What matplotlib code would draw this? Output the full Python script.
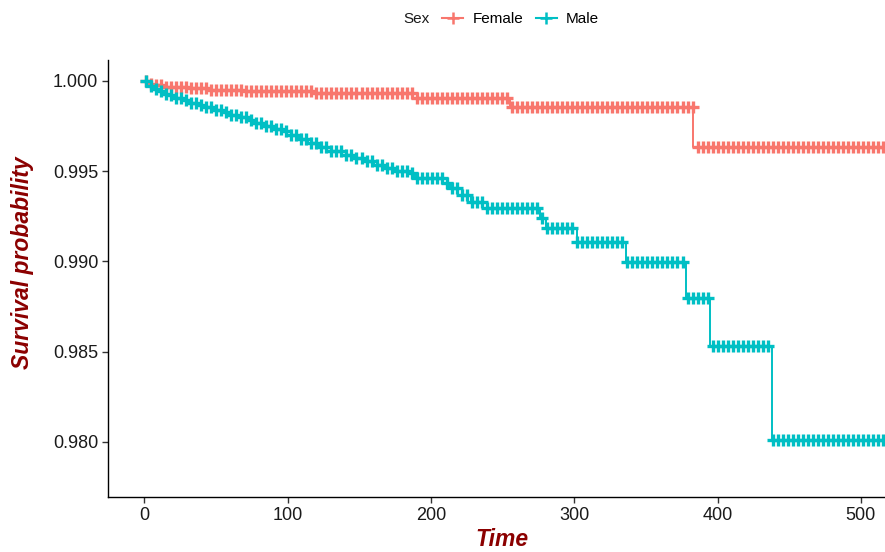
import numpy as np
import matplotlib
matplotlib.use('Agg')
import matplotlib.pyplot as plt
from matplotlib.lines import Line2D

plt.rcParams['font.family'] = ['Liberation Sans', 'DejaVu Sans']

# Kaplan-Meier steps (time, survival after the step)
female_t = [0, 3, 8, 15, 30, 45, 70, 120, 190, 255, 383]
female_s = [1.0, 0.99985, 0.99975, 0.99965, 0.9996, 0.9995, 0.99945, 0.99935,
            0.99906, 0.99857, 0.99634]

male_t = [0, 2, 4, 7, 10, 14, 18, 22, 27, 32, 37, 42, 48, 54, 60, 66, 72, 78,
          84, 90, 96, 102, 108, 114, 122, 130, 138, 146, 152, 160, 168, 176,
          184, 189, 211, 213, 219, 228, 236, 276, 280, 302, 336, 378, 395, 438]
male_s = [1.0, 0.99985, 0.9997, 0.99958, 0.99945, 0.9993, 0.9992, 0.99908,
          0.99895, 0.9988, 0.99868, 0.99855, 0.9984, 0.99828, 0.99812, 0.998,
          0.99782, 0.99765, 0.9975, 0.99735, 0.9972, 0.997, 0.9968, 0.99655,
          0.99635, 0.9961, 0.9959, 0.99575, 0.99555, 0.99535, 0.9952, 0.995,
          0.9949, 0.99463, 0.99435, 0.99407, 0.99368, 0.9933, 0.99296, 0.99241,
          0.99186, 0.99108, 0.98997, 0.98798, 0.98532, 0.98011]

t_end = 517
# censoring is very dense in the plot (a mark roughly every 3.5 days)
censor_times = np.arange(1, t_end, 3.5)

col_f = '#F8766D'
col_m = '#00BFC4'


def surv_at(times, surv, t):
    idx = np.searchsorted(times, t, side='right') - 1
    return np.array(surv)[idx]


fig = plt.figure(figsize=(8.85, 5.52), dpi=100)
ax = fig.add_axes([108/885, 1 - 497/552, 777/885, 437/552])

for tt, ss, col in [(female_t, female_s, col_f), (male_t, male_s, col_m)]:
    ax.step(tt + [t_end], ss + [ss[-1]], where='post', color=col, lw=1.4, zorder=2)
    ax.plot(censor_times, surv_at(tt, ss, censor_times), ls='none', marker='+',
            ms=8.5, mew=2.4, color=col, zorder=3)

ax.set_xlim(-25.4, 516.8)
ax.set_ylim(0.97695, 1.00116)
ax.set_xticks([0, 100, 200, 300, 400, 500])
ax.set_yticks([0.980, 0.985, 0.990, 0.995, 1.000])
ax.set_yticklabels(['0.980', '0.985', '0.990', '0.995', '1.000'])

for s in ['top', 'right']:
    ax.spines[s].set_visible(False)
for s in ['left', 'bottom']:
    ax.spines[s].set_linewidth(1.0)
    ax.spines[s].set_color('black')
ax.tick_params(axis='both', direction='out', length=4, width=1, colors='#333333',
               labelsize=13, labelcolor='#1a1a1a', pad=3)

ax.set_xlabel('Time', fontsize=16.5, fontweight='bold', fontstyle='italic',
              color='#8B0000')
ax.set_ylabel('Survival probability', fontsize=16.5, fontweight='bold',
              fontstyle='italic', color='#8B0000')
# label positions in axes coordinates
ax.xaxis.set_label_coords((502 - 108) / 777, (497 - 539) / 437)
ax.xaxis.label.set_va('center')
ax.yaxis.set_label_coords((23 - 108) / 777, (497 - 263) / 437)
ax.yaxis.label.set_va('center')

# legend at the top
fig.text(403/885, 1 - 19/552, 'Sex', fontsize=11, va='center', ha='left', color='#1a1a1a')
handles = [Line2D([], [], color=col_f, marker='+', ms=9, mew=1.8, lw=1.5),
           Line2D([], [], color=col_m, marker='+', ms=9, mew=1.8, lw=1.5)]
fig.legend(handles, ['Female', 'Male'], loc='center left',
           bbox_to_anchor=(442/885, 1 - 19/552), ncol=2, frameon=False,
           fontsize=11, handlelength=1.4, handletextpad=0.6, columnspacing=0.8,
           borderaxespad=0, borderpad=0)

fig.savefig('out.png', dpi=100)
